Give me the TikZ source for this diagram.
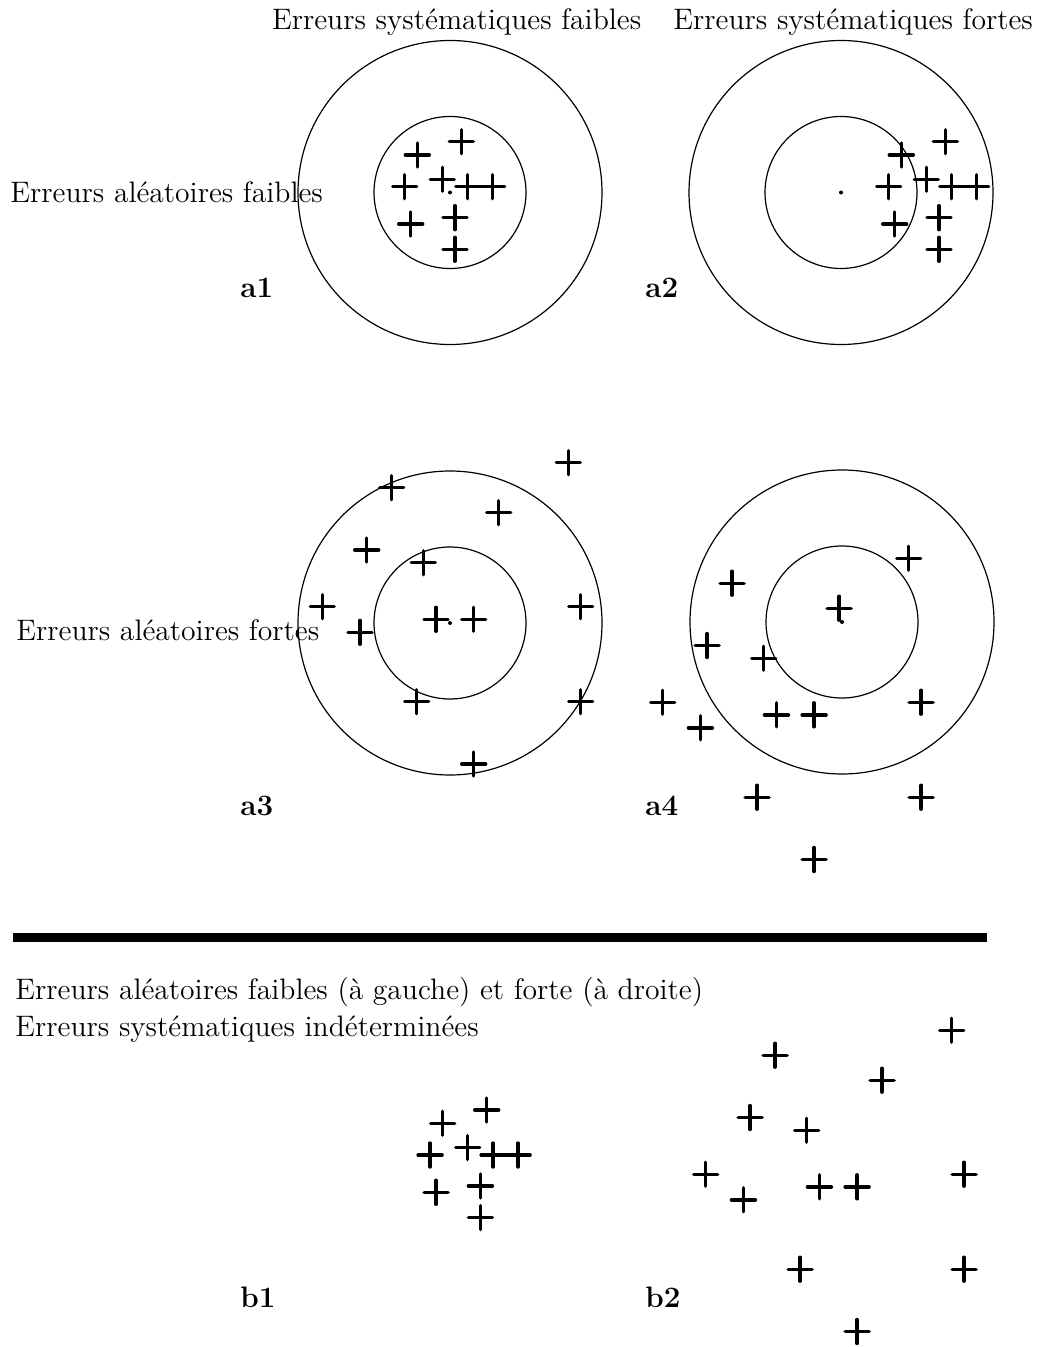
\documentclass[tikz,border=0pt]{standalone}
\usepackage{tikz}
\usetikzlibrary{positioning}
% offsets of the hits, in pixels from the reference point of each panel
\newcommand{\TightHits}{-32.7/-37.7, 11.3/-51, -45.3/-6, -7.7/-13.4, 17.7/-6, 42.7/-6, -39.3/31.3, 5/25, 5/56.6}
\newcommand{\WideHits}{118.3/-160.6, -58.3/-135.6, 48.7/-110.6, -83.3/-73.3, -26.7/-60.6, -127.7/-16.6, 130.7/-16.6, -14/-4, 23.7/-4, -90/9, -33.3/78.4, 130.7/78.4, 23.7/140.7}

\begin{document}
\begin{tikzpicture}[
  x=0.5pt,y=-0.5pt,
  every node/.style={font=\fontsize{14.8}{17}\selectfont,inner sep=0pt,anchor=base west},
  panel/.style={font=\fontsize{14.8}{17}\selectfont\bfseries},
  ring/.style={draw=black,line width=0.6pt},
  hit/.style={draw=black,line width=1.7pt,line cap=round},
  hitmark/.pic={\draw[hit] (-12,0) -- (12,0) (0,-12) -- (0,12);}
]
\useasboundingbox (0,0) rectangle (1045,1347);

% targets
\foreach \cx/\cy in {450/192.5, 841/192.5, 450/623, 842/622}{
  \draw[ring] (\cx,\cy) circle[radius=76pt];
  \draw[ring] (\cx,\cy) circle[radius=38pt];
  \fill (\cx,\cy) circle[radius=1pt];
}

% hits
\foreach \bx/\by in {450/192.7, 934/192.7, 475.4/1161}{
  \begin{scope}[shift={(\bx,\by)}]
    \foreach \dx/\dy in \TightHits \pic at (\dx,\dy) {hitmark};
  \end{scope}
}
\foreach \bx/\by in {450/623.3, 790.4/718.8, 833.4/1190.8}{
  \begin{scope}[shift={(\bx,\by)}]
    \foreach \dx/\dy in \WideHits \pic at (\dx,\dy) {hitmark};
  \end{scope}
}

% titles
\node (sysfaible) at (271.7,30) {Erreurs systématiques faibles};
\node (sysforte) at (673,30) {Erreurs systématiques fortes};
\node (alefaible) at (10,203) {Erreurs aléatoires faibles};
\node (aleforte) at (16,640) {Erreurs aléatoires fortes};

\node[panel] (a1) at (240,298) {a1};
\node[panel] (a2) at (645,298) {a2};
\node[panel] (a3) at (240,815) {a3};
\node[panel] (a4) at (645,815) {a4};

% separator
\coordinate (sepL) at (13,937.7);
\coordinate (sepR) at (987,937.7);
\draw[line width=4.5pt] (sepL) -- (sepR);

\node (bline1) at (15,999) {Erreurs aléatoires faibles (à gauche) et forte (à droite)};
\node (bline2) at (15,1036) {Erreurs systématiques indéterminées};

\node[panel] (b1) at (240,1307) {b1};
\node[panel] (b2) at (645,1307) {b2};
\end{tikzpicture}
\end{document}
